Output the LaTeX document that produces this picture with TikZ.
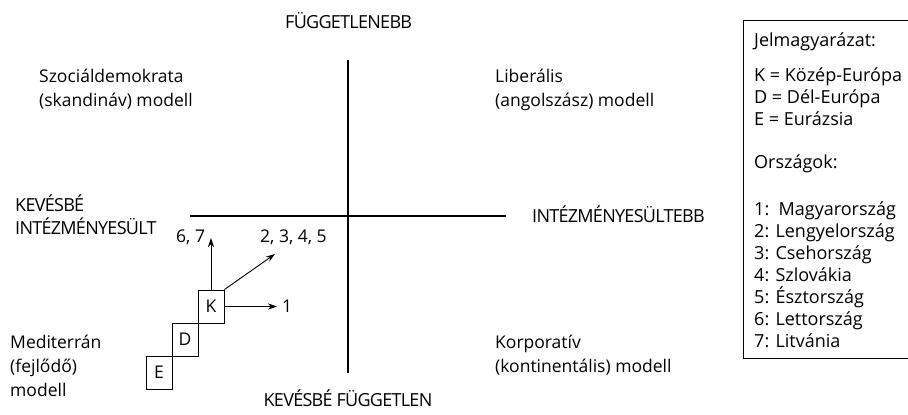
\documentclass[tikz,border=0pt]{standalone}
\usepackage{fontspec}
\setmainfont{Open Sans}
\newfontfamily\capsfont[LetterSpace=-4]{Open Sans}
\usetikzlibrary{arrows.meta}
\begin{document}
\begin{tikzpicture}[x=1pt,y=-1pt,
  txt/.style={inner sep=0pt,anchor=base west,font=\fontsize{17.5}{24}\selectfont},
  lgtxt/.style={inner sep=0pt,anchor=base west,font=\fontsize{18}{24}\selectfont},
  captxt/.style={inner sep=0pt,anchor=base west,font=\fontsize{18}{24}\selectfont\capsfont},
  captxtc/.style={inner sep=0pt,anchor=base,font=\fontsize{18}{24}\selectfont\capsfont},
  axis/.style={line width=2pt},
  regbox/.style={draw,line width=0.9pt,minimum width=26pt,minimum height=33pt,inner sep=0pt,font=\fontsize{17.5}{24}\selectfont},
  arr/.style={line width=0.9pt,-{Stealth[length=9pt,width=6pt]}}]
\useasboundingbox (0,0) rectangle (908,415);
% axes
\coordinate (vt) at (348,60);
\coordinate (vb) at (348,373);
\coordinate (hl) at (190,216);
\coordinate (hr) at (506,216);
\draw[axis] (vt) -- (vb);
\draw[axis] (hl) -- (hr);
% axis labels
\node[captxt] (top) at (285,28) {FÜGGETLENEBB};
\node[captxtc] (bottom) at (348,406) {KEVÉSBÉ FÜGGETLEN};
\node[captxt] (left1) at (15,211) {KEVÉSBÉ};
\node[captxt] (left2) at (15,234) {INTÉZMÉNYESÜLT};
\node[captxt] (right) at (532,222) {INTÉZMÉNYESÜLTEBB};
% quadrant labels
\node[txt] (sz1) at (39,82) {Szociáldemokrata};
\node[txt] (sz2) at (39,106) {(skandináv) modell};
\node[txt] (li1) at (495,82) {Liberális};
\node[txt] (li2) at (495,106) {(angolszász) modell};
\node[txt] (me1) at (10,348) {Mediterrán};
\node[txt] (me2) at (10,372) {(fejlődő)};
\node[txt] (me3) at (10,396) {modell};
\node[txt] (ko1) at (495,348) {Korporatív};
\node[txt] (ko2) at (495,372) {(kontinentális) modell};
% boxes
\node[regbox] (K) at (211,306.5) {K};
\node[regbox] (D) at (185,339.5) {D};
\node[regbox] (E) at (159,372.5) {E};
% arrows
\coordinate (aup) at (211,238);
\coordinate (adi) at (275,254);
\coordinate (ari) at (277,306.5);
\draw[arr] (K.north) -- (aup);
\draw[arr] (K.north east) -- (adi);
\draw[arr] (K.east) -- (ari);
\node[txt] (l67) at (176,242) {6, 7};
\node[txt] (l2345) at (260,242) {2, 3, 4, 5};
\node[txt] (l1) at (282,312) {1};
% legend
\draw[line width=0.9pt] (912,20.5) -- (743.5,20.5) -- (743.5,358) -- (912,358);
\node[lgtxt] (lg0) at (754,46) {Jelmagyarázat:};
\node[lgtxt] (lg1) at (754,81) {K = Közép-Európa};
\node[lgtxt] (lg2) at (754,103) {D = Dél-Európa};
\node[lgtxt] (lg3) at (754,125) {E = Eurázsia};
\node[lgtxt] (lg4) at (754,168) {Országok:};
\node[lgtxt] (c1) at (754,215) {1:\ \ Magyarország};
\node[lgtxt] (c2) at (754,237) {2: Lengyelország};
\node[lgtxt] (c3) at (754,259) {3: Csehország};
\node[lgtxt] (c4) at (754,281) {4: Szlovákia};
\node[lgtxt] (c5) at (754,303) {5: Észtország};
\node[lgtxt] (c6) at (754,325) {6: Lettország};
\node[lgtxt] (c7) at (754,347) {7: Litvánia};
\end{tikzpicture}
\end{document}
